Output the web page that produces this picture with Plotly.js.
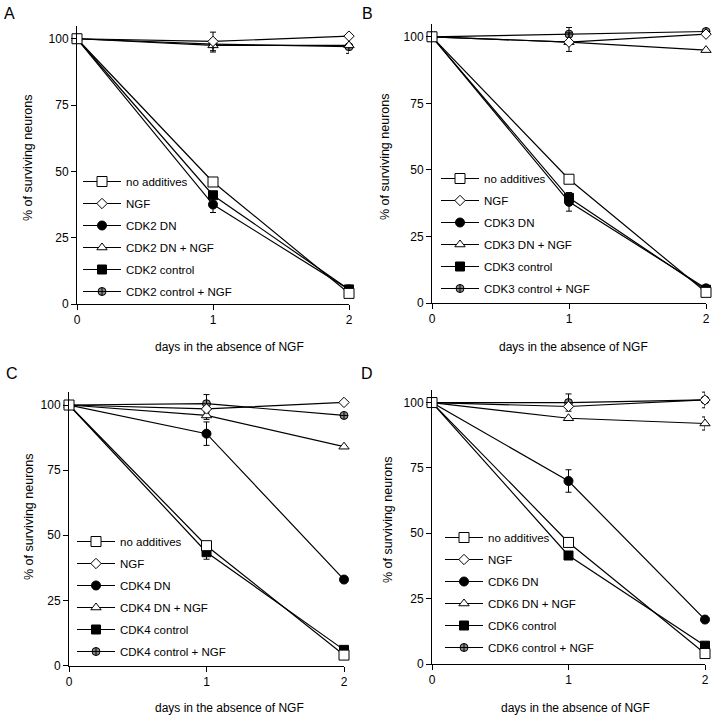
<!DOCTYPE html>
<html>
<head>
<meta charset="utf-8">
<script src="https://cdn.plot.ly/plotly-3.0.1.min.js"></script>
<style>
  body { margin: 0; background: #fff; }
  #chart { width: 715px; height: 720px; }
</style>
</head>
<body>
<div id="chart"></div>
<script>
const days = [0, 1, 2];
const seriesNames = ["no additives", "NGF", "DN", "DN + NGF", "control", "control + NGF"];
const panelCdk = ["CDK2", "CDK3", "CDK4", "CDK6"];
const panelLetters = ["A", "B", "C", "D"];
const yTicks = [0, 25, 50, 75, 100];

// panel A (CDK2)
const cdk2NoAdd = [100, 46, 4];
const cdk2Ngf = [100, 99, 101];
const cdk2Dn = [100, 37.5, 5.5];
const cdk2DnNgf = [100, 97.5, 97.5];
const cdk2Ctrl = [100, 41, 5.5];
const cdk2CtrlNgf = [100, 98, 97];
const cdk2NgfErr = [null, 3.5, null];
const cdk2DnErr = [null, 3, null];
const cdk2DnNgfErr = [null, 2.5, 3];

// panel B (CDK3)
const cdk3NoAdd = [100, 46.5, 4];
const cdk3Ngf = [100, 98, 101];
const cdk3Dn = [100, 38, 5.5];
const cdk3DnNgf = [100, 98, 95];
const cdk3Ctrl = [100, 39.5, 5];
const cdk3CtrlNgf = [100, 101, 102];
const cdk3CtrlNgfErr = [null, 2.5, null];
const cdk3DnNgfErr = [null, 3.5, null];
const cdk3DnErr = [null, 3.5, null];

// panel C (CDK4)
const cdk4NoAdd = [100, 46, 4];
const cdk4Ngf = [100, 98.5, 101];
const cdk4Dn = [100, 89, 33];
const cdk4DnNgf = [100, 96, 84];
const cdk4Ctrl = [100, 43.5, 6];
const cdk4CtrlNgf = [100, 100.5, 96];
const cdk4CtrlNgfErr = [null, 3.5, null];
const cdk4DnErr = [null, 4.5, null];
const cdk4DnNgfErr = [null, 1.5, null];
const cdk4CtrlErr = [null, 2.7, null];

// panel D (CDK6)
const cdk6NoAdd = [100, 46.5, 4];
const cdk6Ngf = [100, 98.5, 101];
const cdk6Dn = [100, 70, 17];
const cdk6DnNgf = [100, 94, 92];
const cdk6Ctrl = [100, 41.5, 7];
const cdk6CtrlNgf = [100, 100, 101];
const cdk6CtrlNgfErr = [null, 3.3, 3];
const cdk6DnErr = [null, 4.3, null];
const cdk6DnNgfErr = [null, null, 2.5];

const panels = [
  { vals: [cdk2NoAdd, cdk2Ngf, cdk2Dn, cdk2DnNgf, cdk2Ctrl, cdk2CtrlNgf],
    errs: [null, cdk2NgfErr, cdk2DnErr, cdk2DnNgfErr, null, null] },
  { vals: [cdk3NoAdd, cdk3Ngf, cdk3Dn, cdk3DnNgf, cdk3Ctrl, cdk3CtrlNgf],
    errs: [null, null, cdk3DnErr, cdk3DnNgfErr, null, cdk3CtrlNgfErr] },
  { vals: [cdk4NoAdd, cdk4Ngf, cdk4Dn, cdk4DnNgf, cdk4Ctrl, cdk4CtrlNgf],
    errs: [null, null, cdk4DnErr, cdk4DnNgfErr, cdk4CtrlErr, cdk4CtrlNgfErr] },
  { vals: [cdk6NoAdd, cdk6Ngf, cdk6Dn, cdk6DnNgf, cdk6Ctrl, cdk6CtrlNgf],
    errs: [null, null, cdk6DnErr, cdk6DnNgfErr, null, cdk6CtrlNgfErr] },
];

const W = 715, H = 720;
// pixel boxes: [left, right, bottom(y=0), top(y=105)]
const boxes = [
  [77, 349, 304, 25.5],
  [432, 706, 303, 23.5],
  [69, 344, 665.5, 392],
  [432, 705, 664, 389.5],
];
// legend top-left corners (px)
const legendPos = [[78, 167], [436, 164], [72, 527], [440, 523]];
const yTitlePos = [[28, 158], [385, 157], [29, 517], [388, 520]];
const xTitlePos = [[229, 347], [573, 347], [229, 708], [575, 708]];
const letterPos = [[9, 13], [367, 13], [12, 373], [367, 373]];

const markers = [
  { symbol: "square", color: "#fff", size: 10 },
  { symbol: "diamond", color: "#fff", size: 8 },
  { symbol: "circle", color: "#000", size: 9 },
  { symbol: "triangle-up", color: "#fff", size: 9 },
  { symbol: "square", color: "#000", size: 9 },
  { symbol: "circle-cross", color: "#888", size: 8 },
];

const font = "Liberation Sans, Arial, sans-serif";
let data = [];
let layout = {
  width: W, height: H,
  margin: { l: 0, r: 0, t: 0, b: 0 },
  paper_bgcolor: "#fff", plot_bgcolor: "#fff",
  font: { family: font, color: "#000", size: 12 },
  showlegend: true,
  annotations: [],
};

function note(text, px, py, size, angle) {
  return {
    text: text, xref: "paper", yref: "paper",
    x: px / W, y: 1 - py / H, xanchor: "center", yanchor: "middle",
    textangle: angle || 0, showarrow: false, font: { family: font, size: size },
  };
}

panels.forEach((p, i) => {
  const n = i + 1;
  const xa = n === 1 ? "x" : "x" + n;
  const ya = n === 1 ? "y" : "y" + n;
  const leg = n === 1 ? "legend" : "legend" + n;
  const b = boxes[i];

  // draw last series first so "no additives" ends up on top
  for (let k = p.vals.length - 1; k >= 0; k--) {
    const name = k < 2 ? seriesNames[k] : panelCdk[i] + " " + seriesNames[k];
    const m = markers[k];
    const tr = {
      type: "scatter", mode: "lines+markers",
      x: days, y: p.vals[k], name: name,
      xaxis: xa, yaxis: ya, legend: leg, legendgroup: leg + "_" + k, legendrank: k + 1,
      cliponaxis: false,
      line: { color: "#000", width: 1.2 },
      marker: { symbol: m.symbol, color: m.color, size: m.size, line: { color: "#000", width: 1 } },
    };
    if (p.errs[k]) {
      tr.error_y = { type: "data", array: p.errs[k], visible: true, color: "#000", thickness: 1, width: 3 };
    }
    data.push(tr);
  }

  const axBase = {
    showline: true, linecolor: "#000", linewidth: 1, showgrid: false, zeroline: false,
    ticks: "outside", ticklen: 5, tickcolor: "#000", tickwidth: 1,
    tickfont: { family: font, size: 12, color: "#000" }, fixedrange: true,
  };
  layout["xaxis" + (n === 1 ? "" : n)] = Object.assign({}, axBase, {
    domain: [b[0] / W, b[1] / W], anchor: ya, range: [0, 2],
    tickvals: days,
  });
  layout["yaxis" + (n === 1 ? "" : n)] = Object.assign({}, axBase, {
    domain: [1 - b[2] / H, 1 - b[3] / H], anchor: xa, range: [0, 105],
    tickvals: yTicks,
  });
  layout[leg] = {
    x: legendPos[i][0] / W, y: 1 - legendPos[i][1] / H,
    xanchor: "left", yanchor: "top", xref: "paper", yref: "paper",
    bgcolor: "rgba(0,0,0,0)", borderwidth: 0,
    font: { family: font, size: 11.5, color: "#000" },
    itemwidth: 38, tracegroupgap: 3,
  };

  layout.annotations.push(
    note("% of surviving neurons", yTitlePos[i][0], yTitlePos[i][1], 12.5, -90),
    note("days in the absence of NGF", xTitlePos[i][0], xTitlePos[i][1], 12),
    note(panelLetters[i], letterPos[i][0], letterPos[i][1], 16)
  );
});

Plotly.newPlot("chart", data, layout, { staticPlot: true });
</script>
</body>
</html>
